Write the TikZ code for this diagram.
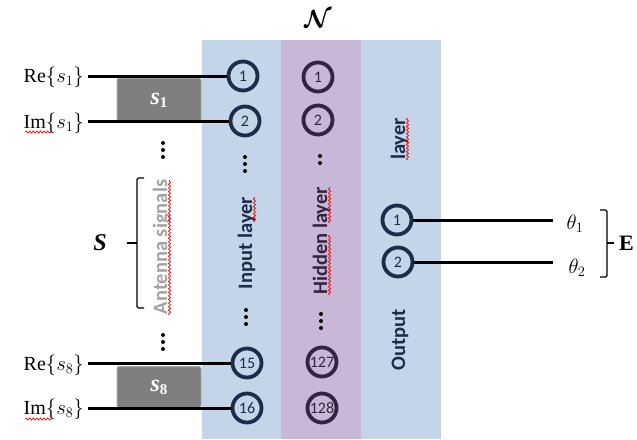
\documentclass[tikz,border=0pt]{standalone}
\usepackage{amsmath,amssymb}
\usepackage{fontspec}
\setmainfont{Liberation Serif}
\newfontfamily\carl{Carlito}
\usetikzlibrary{decorations.pathmorphing}

\definecolor{colblue}{HTML}{C4D4E9}
\definecolor{colpurple}{HTML}{C8B7D7}
\definecolor{navy}{HTML}{1C2E47}
\definecolor{plum}{HTML}{35243F}
\definecolor{boxgray}{HTML}{7F7F7F}
\definecolor{boxedge}{HTML}{A8A8A8}
\definecolor{softgray}{HTML}{A3A3A3}

\newcommand{\boxsig}[1]{{\bfseries\itshape s}\raisebox{-3pt}{\bfseries\fontsize{15}{15}\selectfont #1}}

\tikzset{
  neuron/.style={circle, draw=navy, line width=3.8pt, minimum size=29pt, inner sep=0pt,
                 font=\carl\fontsize{16}{16}\selectfont, text=navy},
  hneuron/.style={neuron, draw=plum, text=plum},
  wire/.style={line width=3pt, black},
  layertext/.style={rotate=90, anchor=base, font=\carl\bfseries\fontsize{20.5}{24}\selectfont},
  siglabel/.style={anchor=east, inner sep=0pt, font=\fontsize{20}{24}\selectfont},
  sigbox/.style={fill=boxgray, draw=boxedge, line width=1pt, rounded corners=2pt,
                 text=white, minimum width=84pt, font=\fontsize{24}{26}\selectfont},
  squiggle/.style={red, line width=0.7pt, decorate,
                   decoration={snake, amplitude=1.1pt, segment length=3.6pt}},
  bracket/.style={line width=1.4pt, black, rounded corners=1.5pt},
  ellipsisdot/.style={fill=black},
}

\begin{document}
\begin{tikzpicture}[x=1pt, y=-1pt]
  \useasboundingbox (0,0) rectangle (637,439);

  % layer columns
  \fill[colblue]   (202,40) rectangle (281,439);
  \fill[colpurple] (281,40) rectangle (361,439);
  \fill[colblue]   (361,40) rectangle (441,439);

  \node[font=\fontsize{23}{24}\selectfont] (netname) at (318,19) {$\boldsymbol{\mathcal{N}}$};

  % input layer
  \node[neuron] (i1)  at (243,76)  {1};
  \node[neuron] (i2)  at (245,121) {2};
  \node[neuron] (i15) at (247,363) {15};
  \node[neuron] (i16) at (247,408) {16};

  % hidden layer
  \node[hneuron] (h1)   at (318,77)  {1};
  \node[hneuron] (h2)   at (318,120) {2};
  \node[hneuron] (h127) at (322,362) {127};
  \node[hneuron] (h128) at (322,408) {128};

  % output layer
  \node[neuron] (o1) at (397,220) {1};
  \node[neuron] (o2) at (398,262) {2};

  % layer captions
  \node[layertext, text=navy] (inlab) at (252,243) {Input layer};
  \draw[squiggle] (254.5,222) -- (254.5,197);
  \node[layertext, text=plum] (hidlab) at (327,241) {Hidden layer};
  \draw[squiggle] (329.5,295) -- (329.5,235);
  \draw[squiggle] (329.5,223) -- (329.5,187);
  \node[layertext, text=navy] (outlab1) at (405,340) {Output};
  \node[layertext, text=navy] (outlab2) at (405,139) {layer};
  \draw[squiggle] (407.5,160) -- (407.5,118);

  % vertical ellipses
  \foreach \yy in {157,164,171} \fill[ellipsisdot] (245,\yy) circle (2pt);
  \foreach \yy in {310,317,324} \fill[ellipsisdot] (246,\yy) circle (2pt);
  \foreach \yy in {156,163} \fill[ellipsisdot] (320,\yy) circle (2pt);
  \foreach \yy in {314,321,328} \fill[ellipsisdot] (321,\yy) circle (2pt);
  \foreach \yy in {143,150,157} \fill[ellipsisdot] (163,\yy) circle (2pt);
  \foreach \yy in {335,342,349} \fill[ellipsisdot] (163,\yy) circle (2pt);

  % antenna signal boxes
  \node[sigbox, minimum height=44pt] (s1) at (159,100) {\boxsig{1}};
  \node[sigbox, minimum height=41pt] (s8) at (159,387) {\boxsig{8}};

  % real / imaginary inputs
  \node[siglabel] (re1) at (84,77)  {Re$\{s_1\}$};
  \node[siglabel] (im1) at (84,123) {Im$\{s_1\}$};
  \node[siglabel] (re8) at (84,365) {Re$\{s_8\}$};
  \node[siglabel] (im8) at (84,409) {Im$\{s_8\}$};
  \draw[squiggle] (25,132) -- (52,132);
  \draw[squiggle] (25,419) -- (52,419);

  \coordinate (re1w) at (88,76);
  \coordinate (im1w) at (88,121);
  \coordinate (re8w) at (88,363);
  \coordinate (im8w) at (88,408);
  \draw[wire] (re1w) -- (i1);
  \draw[wire] (im1w) -- (i2);
  \draw[wire] (re8w) -- (i15);
  \draw[wire] (im8w) -- (i16);

  % antenna signal group
  \node[layertext, text=softgray] (antlab) at (167,247) {Antenna signals};
  \draw[squiggle] (169.5,315) -- (169.5,180);
  \draw[bracket] (144,178) -- (137,178) -- (137,308) -- (144,308);
  \draw[bracket] (137,243) -- (127,243);
  \node[font=\bfseries\itshape\fontsize{24}{26}\selectfont] (Sset) at (100,243) {S};

  % outputs
  \coordinate (t1w) at (553,220);
  \coordinate (t2w) at (553,262);
  \draw[wire] (o1) -- (t1w);
  \draw[wire] (o2) -- (t2w);
  \node[font=\fontsize{20}{24}\selectfont] (th1) at (575,224) {$\theta_1$};
  \node[font=\fontsize{20}{24}\selectfont] (th2) at (577,268) {$\theta_2$};
  \draw[bracket] (600,210) -- (607,210) -- (607,277) -- (600,277);
  \draw[bracket] (607,243) -- (614,243);
  \node[anchor=west, inner sep=0pt, font=\bfseries\fontsize{22}{24}\selectfont] (Eset) at (619,243) {E};
\end{tikzpicture}
\end{document}
